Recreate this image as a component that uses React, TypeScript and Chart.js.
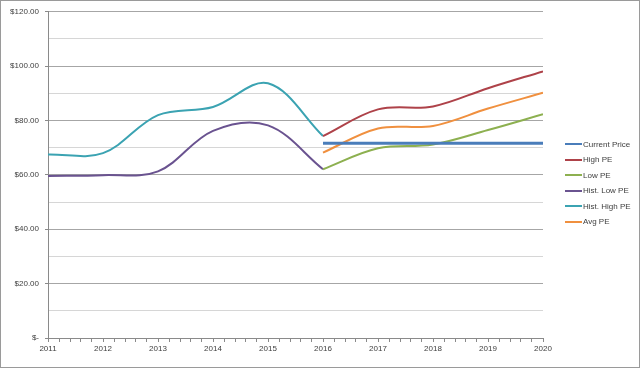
import React, { useEffect, useRef } from "react";
import { Chart, registerables } from "chart.js";

Chart.register(...registerables);

const histYears = [2011, 2012, 2013, 2014, 2015, 2016];
const projYears = [2016, 2017, 2018, 2019, 2020];

const histHighPE = [67.5, 68.0, 82.0, 85.0, 93.7, 74.3];
const histLowPE = [59.6, 59.9, 61.3, 76.2, 78.2, 62.1];

const currentPrice = [71.6, 71.6, 71.6, 71.6, 71.6];
const highPE = [74.3, 84.1, 85.2, 91.9, 98.1];
const lowPE = [62.1, 69.8, 71.2, 76.5, 82.3];
const avgPE = [68.2, 77.1, 78.0, 84.4, 90.2];

const seriesNames = ["Current Price", "High PE", "Low PE", "Hist. Low PE", "Hist. High PE", "Avg PE"];
const seriesColors = ["#4A7DBA", "#AE4249", "#8DB050", "#6A5390", "#3BA3B2", "#F0903F"];

const yTickLabel = (v: number) => (v === 0 ? "$-" : "$" + v.toFixed(2));

const FONT = { family: "'Liberation Sans', Arial, sans-serif", size: 8 };

function pts(xs: number[], ys: number[]) {
  return xs.map((x, i) => ({ x, y: ys[i] }));
}

export default function App() {
  const ref = useRef<HTMLCanvasElement | null>(null);

  useEffect(() => {
    document.body.style.margin = "0";
    const ctx = ref.current!;
    const ds = (idx: number, data: { x: number; y: number }[], width = 2) => ({
      label: seriesNames[idx],
      data,
      borderColor: seriesColors[idx],
      backgroundColor: seriesColors[idx],
      borderWidth: width,
      pointRadius: 0,
      tension: 0.35,
      fill: false,
    });
    const chart = new Chart(ctx, {
      type: "line",
      data: {
        datasets: [
          ds(0, pts(projYears, currentPrice), 3),
          ds(1, pts(projYears, highPE)),
          ds(2, pts(projYears, lowPE)),
          ds(3, pts(histYears, histLowPE)),
          ds(4, pts(histYears, histHighPE)),
          ds(5, pts(projYears, avgPE)),
        ],
      },
      options: {
        animation: false,
        responsive: false,
        maintainAspectRatio: false,
        layout: { padding: { top: 8, right: 96, left: 0, bottom: 0 } },
        plugins: { legend: { display: false }, tooltip: { enabled: false } },
        scales: {
          x: {
            type: "linear",
            min: 2011,
            max: 2020,
            afterFit: (s: any) => {
              s.height = 29;
            },
            ticks: {
              stepSize: 0.2,
              autoSkip: false,
              maxRotation: 0,
              color: "#404040",
              font: FONT,
              padding: 2,
              callback: (v: any) => {
                const n = Number(v);
                return Math.abs(n - Math.round(n)) < 1e-6 ? String(Math.round(n)) : "";
              },
            },
            grid: {
              drawOnChartArea: false,
              drawTicks: true,
              tickLength: 4,
              tickColor: "#8a8a8a",
            },
            border: { display: true, color: "#8a8a8a", width: 1 },
          },
          y: {
            min: 0,
            max: 120,
            afterFit: (s: any) => {
              s.width = 47;
            },
            ticks: {
              stepSize: 10,
              autoSkip: false,
              color: "#404040",
              font: FONT,
              padding: 6,
              callback: (v: any) => (Number(v) % 20 === 0 ? yTickLabel(Number(v)) : ""),
            },
            grid: {
              color: (c: any) => (c.tick && c.tick.value % 20 === 0 ? "#a6a6a6" : "#d6d6d6"),
              tickColor: (c: any) => (c.tick && c.tick.value % 20 === 0 ? "#8a8a8a" : "rgba(0,0,0,0)"),
              tickLength: 3,
            },
            border: { display: true, color: "#8a8a8a", width: 1 },
          },
        },
      },
    } as any);
    return () => chart.destroy();
  }, []);

  const legendTops = [144, 159.5, 175, 190.5, 206, 221.5];

  return (
    <div
      style={{
        position: "relative",
        width: 640,
        height: 368,
        boxSizing: "border-box",
        border: "1px solid #9a9a9a",
        background: "#fff",
        overflow: "hidden",
      }}
    >
      <canvas ref={ref} width={638} height={366} style={{ display: "block" }} />
      {seriesNames.map((name, i) => (
        <div
          key={name}
          style={{
            position: "absolute",
            left: 564,
            top: legendTops[i] - 1 - 6,
            height: 12,
            display: "flex",
            alignItems: "center",
            fontFamily: FONT.family,
            fontSize: 8,
            color: "#404040",
            whiteSpace: "nowrap",
          }}
        >
          <span
            style={{
              display: "inline-block",
              width: 17,
              height: 2,
              background: seriesColors[i],
              marginRight: 1,
            }}
          />
          <span>{name}</span>
        </div>
      ))}
    </div>
  );
}
